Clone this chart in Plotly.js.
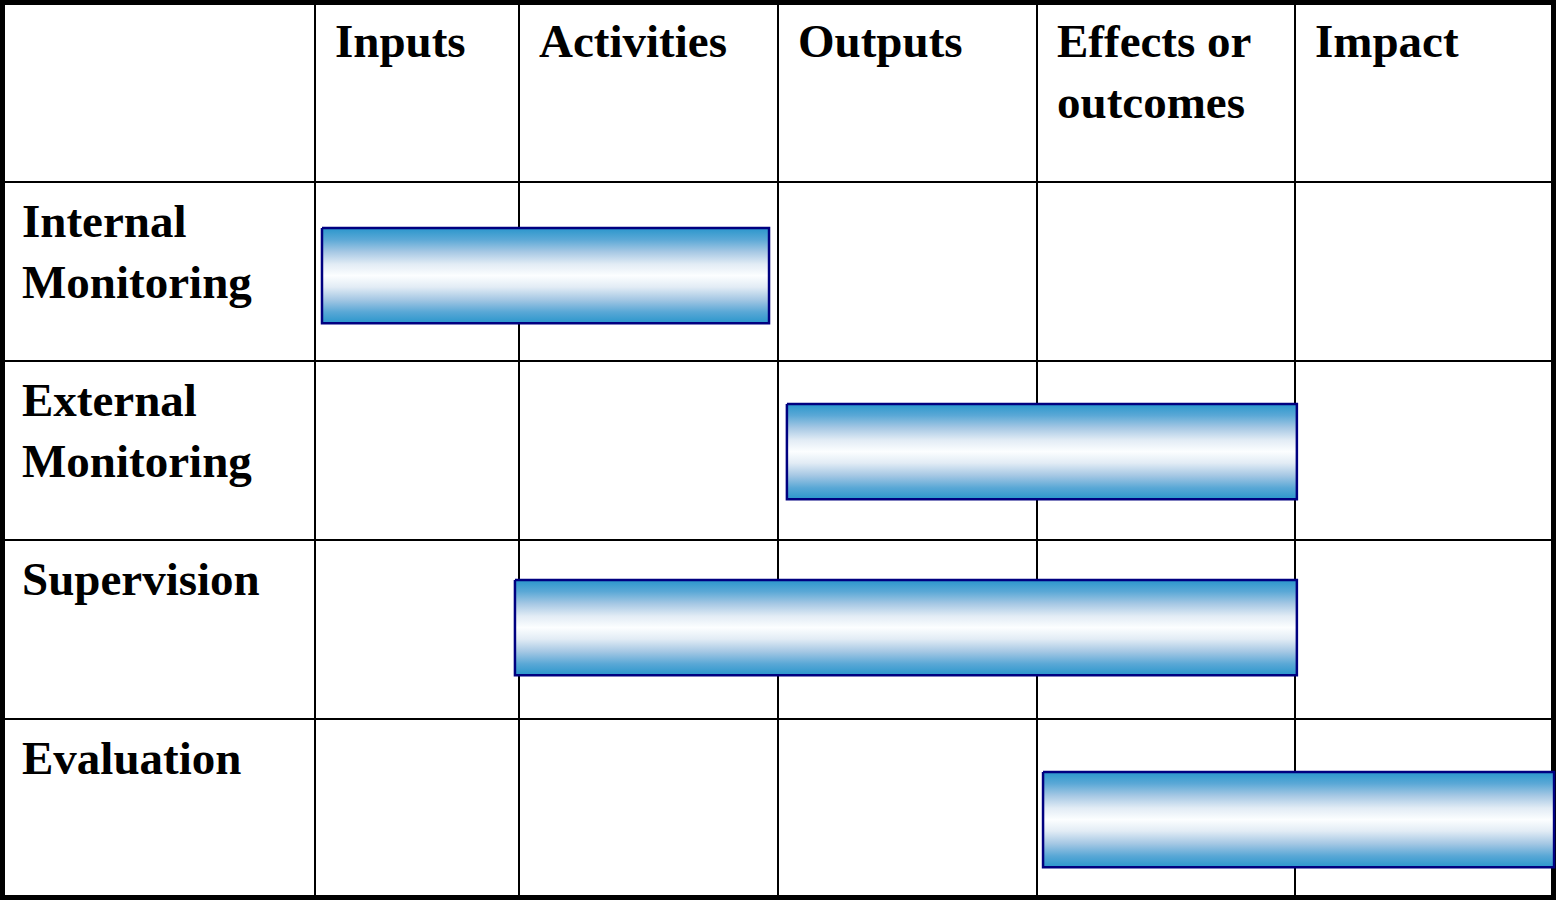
<!DOCTYPE html>
<html><head><meta charset="utf-8">
<script src="https://cdn.plot.ly/plotly-3.0.1.min.js"></script>
<style>html,body{margin:0;padding:0;background:#fff;overflow:hidden}</style>
</head><body><div id="chart" style="width:1556px;height:900px"></div>
<script>
// ---- data ----
const stages = ['Inputs', 'Activities', 'Outputs', 'Effects or<br>outcomes', 'Impact'];
const activities = ['Internal<br>Monitoring', 'External<br>Monitoring', 'Supervision', 'Evaluation'];
// span of each activity along the results chain (stage units, Inputs column starts at 0)
const spanStart = [0.027, 1.822, 0.772, 2.811];
const spanEnd   = [1.753, 3.791, 3.791, 4.784];

// ---- layout helpers (positions / styles) ----
const stageEdges = [0, 0.788, 1.788, 2.788, 3.784];
const rowEdges = [0, 1, 2, 3];
const barTop = [0.257, 1.240, 2.2235, 3.296];
const barThick = 0.532;
const fontSpec = {family: '"Liberation Serif", "Times New Roman", serif', size: 47, color: '#000'};
const grad = [[0, '#2a96cc'], [0.12, '#5aa8d6'], [0.25, '#a6c8e4'], [0.38, '#e2ecf5'], [0.5, '#fcfeff'],
              [0.62, '#e2ecf5'], [0.75, '#a6c8e4'], [0.88, '#5aa8d6'], [1, '#2a96cc']];

const traces = activities.map((name, i) => {
  const s = spanStart[i], e = spanEnd[i], t = barTop[i], b = barTop[i] + barThick;
  return {
    type: 'scatter', mode: 'lines', name: name.replace('<br>', ' '),
    x: [s, e, e, s, s], y: [t, t, b, b, t],
    fill: 'toself',
    fillgradient: {type: 'vertical', colorscale: grad},
    line: {color: '#000080', width: 2.5},
    hoverinfo: 'skip'
  };
});

const annotations = [];
stages.forEach((s, j) => annotations.push({
  text: '<b>' + s + '</b>', x: stageEdges[j], xref: 'x', y: 1, yref: 'paper',
  xanchor: 'left', yanchor: 'top', align: 'left', xshift: 18, yshift: -13,
  showarrow: false, font: fontSpec
}));
activities.forEach((a, i) => annotations.push({
  text: '<b>' + a + '</b>', x: 0, xref: 'paper', y: rowEdges[i], yref: 'y',
  xanchor: 'left', yanchor: 'top', align: 'left', xshift: 20, yshift: -11,
  showarrow: false, font: fontSpec
}));

const axisCommon = {
  showgrid: true, gridcolor: '#000', gridwidth: 2,
  zeroline: true, zerolinecolor: '#000', zerolinewidth: 2,
  showticklabels: false, ticks: '', showline: false, fixedrange: true
};

const layout = {
  width: 1556, height: 900,
  margin: {l: 0, r: 0, t: 0, b: 0},
  paper_bgcolor: '#fff', plot_bgcolor: 'rgba(0,0,0,0)',
  showlegend: false, hovermode: false,
  xaxis: Object.assign({}, axisCommon, {range: [-315 / 259, 1241 / 259], tickvals: stageEdges}),
  yaxis: Object.assign({}, axisCommon, {range: [718 / 179, -182 / 179], tickvals: rowEdges}),
  shapes: [{type: 'rect', xref: 'paper', yref: 'paper', x0: 0, x1: 1, y0: 0, y1: 1,
            line: {color: '#000', width: 10}, fillcolor: 'rgba(0,0,0,0)', layer: 'below'}],
  annotations: annotations
};

Plotly.newPlot('chart', traces, layout, {staticPlot: true, displayModeBar: false});
</script>
</body></html>
